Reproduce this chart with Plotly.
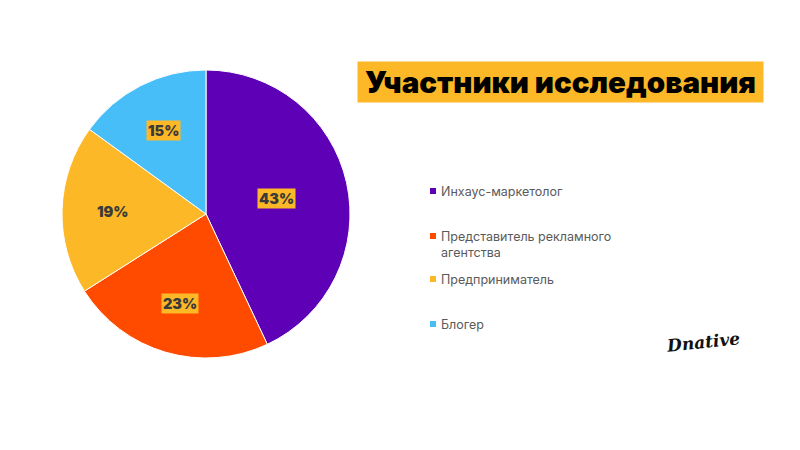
import math
import plotly.graph_objects as go

# ---- data ----
categories = ["Инхаус-маркетолог", "Представитель рекламного агентства", "Предприниматель", "Блогер"]
legend_text = ["Инхаус-маркетолог", "Представитель рекламного<br>агентства", "Предприниматель", "Блогер"]
values = [43, 23, 19, 15]
colors = ["#5E00B5", "#FF4B00", "#FDB827", "#47BEF8"]
title_text = "Участники исследования"

# ---- style / layout constants ----
W, H = 800, 450
pie_cx, pie_cy, pie_r = 206, 214, 144          # px
label_frac = [0.50, 0.65, 0.65, 0.65]          # radial position of labels
label_bg = ["#FDB827", "#FDB827", "rgba(0,0,0,0)", "#FDB827"]
legend_x = 430
legend_y = [191, 236, 279, 324]
FONT = "Inter"

fig = go.Figure()
fig.add_trace(go.Pie(
    labels=categories,
    values=values,
    marker=dict(colors=colors, line=dict(color="white", width=1)),
    sort=False,
    direction="clockwise",
    rotation=0,
    textinfo="none",
    hoverinfo="label+percent",
    showlegend=False,
    domain=dict(x=[(pie_cx - pie_r) / W, (pie_cx + pie_r) / W],
                y=[1 - (pie_cy + pie_r) / H, 1 - (pie_cy - pie_r) / H]),
))

annotations = []
shapes = []
total = sum(values)
cum = 0
for i, v in enumerate(values):
    mid = (cum + v / 2) / total * 2 * math.pi
    cum += v
    r = pie_r * label_frac[i]
    xp = pie_cx + r * math.sin(mid)
    yp = pie_cy - r * math.cos(mid)
    pct = round(v / total * 100)
    annotations.append(dict(
        x=xp / W, y=1 - yp / H, xref="paper", yref="paper",
        xanchor="center", yanchor="middle",
        text=f"{pct}%", showarrow=False,
        font=dict(family=FONT, size=14.5, color="#3A3A3A", weight=900),
        bgcolor=label_bg[i], borderpad=1,
    ))

# legend drawn manually
for i, t in enumerate(legend_text):
    y = legend_y[i]
    shapes.append(dict(type="rect", xref="paper", yref="paper",
                       x0=legend_x / W, x1=(legend_x + 6) / W,
                       y0=1 - (y + 3) / H, y1=1 - (y - 3) / H,
                       fillcolor=colors[i], line=dict(width=0)))
    annotations.append(dict(
        x=(legend_x + 9) / W, y=1 - (y - 9) / H, xref="paper", yref="paper",
        xanchor="left", yanchor="top", align="left",
        text=t, showarrow=False,
        font=dict(family=FONT, size=12.5, color="#5A5A5A"),
    ))

# title
annotations.append(dict(
    x=560 / W, y=1 - 82 / H, xref="paper", yref="paper",
    xanchor="center", yanchor="middle",
    text=title_text, showarrow=False,
    font=dict(family=FONT, size=29.5, color="#000000", weight=900),
    bgcolor="#FDB827", width=405, height=40, borderpad=0,
))

# logo
annotations.append(dict(
    x=703 / W, y=1 - 342 / H, xref="paper", yref="paper",
    xanchor="center", yanchor="middle",
    text="<i>Dnative</i>", showarrow=False, textangle=-6,
    font=dict(family="DejaVu Serif", size=17, color="#111111", weight=700),
))

fig.update_layout(
    width=W, height=H,
    margin=dict(l=0, r=0, t=0, b=0),
    paper_bgcolor="white", plot_bgcolor="white",
    annotations=annotations, shapes=shapes,
    showlegend=False,
)

fig.write_html("out.html")
